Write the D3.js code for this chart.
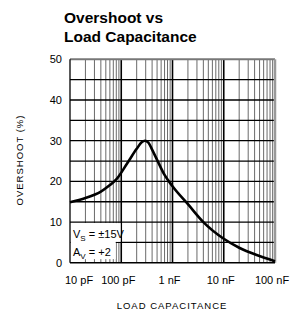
<!DOCTYPE html>
<html><head><meta charset="utf-8">
<script src="https://cdn.jsdelivr.net/npm/d3@7"></script>
<style>body{margin:0;background:#fff}svg{display:block}</style>
</head><body>
<svg id="c" width="291" height="310"></svg>
<script>
// capacitance in pF
const capacitance = [10, 20, 40, 60, 80, 130, 200, 250, 290, 340, 400, 500, 700, 1000, 2000, 4000, 10000, 20000, 44000, 100000];
const overshoot   = [14.9, 15.9, 17.5, 19.1, 20.5, 24.4, 28.0, 29.6, 30.0, 29.5, 27.8, 25.3, 21.6, 18.8, 14.4, 10.0, 5.9, 3.7, 1.9, 0.4];
const xTickValues = [10, 100, 1000, 10000, 100000];
const xTickLabels = ["10 pF", "100 pF", "1 nF", "10 nF", "100 nF"];
const yTickValues = [0, 10, 20, 30, 40, 50];
const titleLines = ["Overshoot vs", "Load Capacitance"];

const svg = d3.select("#c");
const L = 70, R = 275, T = 59.3, B = 262.8;
const x = d3.scaleLog().domain([10, 100000]).range([L, R]);
const y = d3.scaleLinear().domain([0, 50]).range([B, T]);

// title
svg.selectAll("text.title").data(titleLines).join("text")
  .attr("x", 64).attr("y", (d, i) => 23 + i * 19)
  .attr("font-family", "Liberation Sans, Arial, sans-serif")
  .attr("font-weight", "bold").attr("font-size", 15.5).attr("fill", "#000")
  .text(d => d);

const g = svg.append("g");

// minor vertical grid
const minor = [];
for (let dec = 10; dec < 100000; dec *= 10) for (let k = 2; k <= 9; k++) minor.push(dec * k);
g.selectAll("line.vmin").data(minor).join("line")
  .attr("x1", d => x(d)).attr("x2", d => x(d)).attr("y1", T).attr("y2", B)
  .attr("stroke", "#6a6a6a").attr("stroke-width", 1);
// horizontal grid every 5
g.selectAll("line.h").data(d3.range(5, 50, 5)).join("line")
  .attr("x1", L).attr("x2", R).attr("y1", d => y(d)).attr("y2", d => y(d))
  .attr("stroke", "#000").attr("stroke-width", 1.3);
// major vertical
g.selectAll("line.vmaj").data(xTickValues.slice(1, -1)).join("line")
  .attr("x1", d => x(d)).attr("x2", d => x(d)).attr("y1", T).attr("y2", B)
  .attr("stroke", "#000").attr("stroke-width", 1.6);

// legend box (white, covering grid)
g.append("rect").attr("x", L + 0.5).attr("y", y(10) + 1)
  .attr("width", x(78) - L - 0.5).attr("height", y(0.9) - y(10) - 1)
  .attr("fill", "#fff");
g.append("rect").attr("x", L + 0.5).attr("y", y(10) + 1)
  .attr("width", x(95) - L).attr("height", y(5) - y(10) - 1.6)
  .attr("fill", "#fff");

// frame
g.append("line").attr("x1", L).attr("x2", R).attr("y1", T).attr("y2", T).attr("stroke", "#777").attr("stroke-width", 2);
g.append("line").attr("x1", R).attr("x2", R).attr("y1", T).attr("y2", B).attr("stroke", "#999").attr("stroke-width", 2.5);
g.append("line").attr("x1", L).attr("x2", L).attr("y1", T).attr("y2", B).attr("stroke", "#000").attr("stroke-width", 1.3);
g.append("line").attr("x1", L).attr("x2", R).attr("y1", B).attr("y2", B).attr("stroke", "#000").attr("stroke-width", 1.5);

// curve
const pts = capacitance.map((c, i) => [c, overshoot[i]]);
g.append("path").datum(pts)
  .attr("d", d3.line().x(d => x(d[0])).y(d => y(d[1])).curve(d3.curveMonotoneX))
  .attr("fill", "none").attr("stroke", "#000").attr("stroke-width", 2.6);

// legend text
const lf = "Liberation Sans, Arial, sans-serif";
const t1 = svg.append("text").attr("x", 73).attr("y", 238).attr("font-family", lf).attr("font-size", 11).attr("fill", "#000");
t1.append("tspan").text("V");
t1.append("tspan").attr("font-size", 8).attr("dy", 3).text("S");
t1.append("tspan").attr("dy", -3).text(" = ±15V");
const t2 = svg.append("text").attr("x", 73).attr("y", 256).attr("font-family", lf).attr("font-size", 11).attr("fill", "#000");
t2.append("tspan").text("A");
t2.append("tspan").attr("font-size", 8).attr("dy", 3).text("V");
t2.append("tspan").attr("dy", -3).text(" = +2");

// y tick labels
svg.selectAll("text.yt").data(yTickValues).join("text")
  .attr("x", 62).attr("y", d => y(d) + 4)
  .attr("text-anchor", "end").attr("font-family", lf).attr("font-size", 11).attr("fill", "#000")
  .text(d => d);

// x tick labels
svg.selectAll("text.xt").data(xTickValues).join("text")
  .attr("x", (d, i) => i === 0 ? x(d) - 5 : x(d) - 3)
  .attr("y", 284)
  .attr("text-anchor", (d, i) => i === 0 ? "start" : "middle")
  .attr("font-family", lf).attr("font-size", 11).attr("fill", "#000")
  .text((d, i) => xTickLabels[i]);

// axis titles
svg.append("text").attr("x", 172).attr("y", 308.5).attr("text-anchor", "middle")
  .attr("font-family", lf).attr("font-size", 9.5).attr("letter-spacing", 1).attr("fill", "#000")
  .text("LOAD CAPACITANCE");
svg.append("text").attr("transform", "translate(23,160) rotate(-90)").attr("text-anchor", "middle")
  .attr("font-family", lf).attr("font-size", 9.5).attr("letter-spacing", 1).attr("fill", "#000")
  .text("OVERSHOOT (%)");
</script>
</body></html>
